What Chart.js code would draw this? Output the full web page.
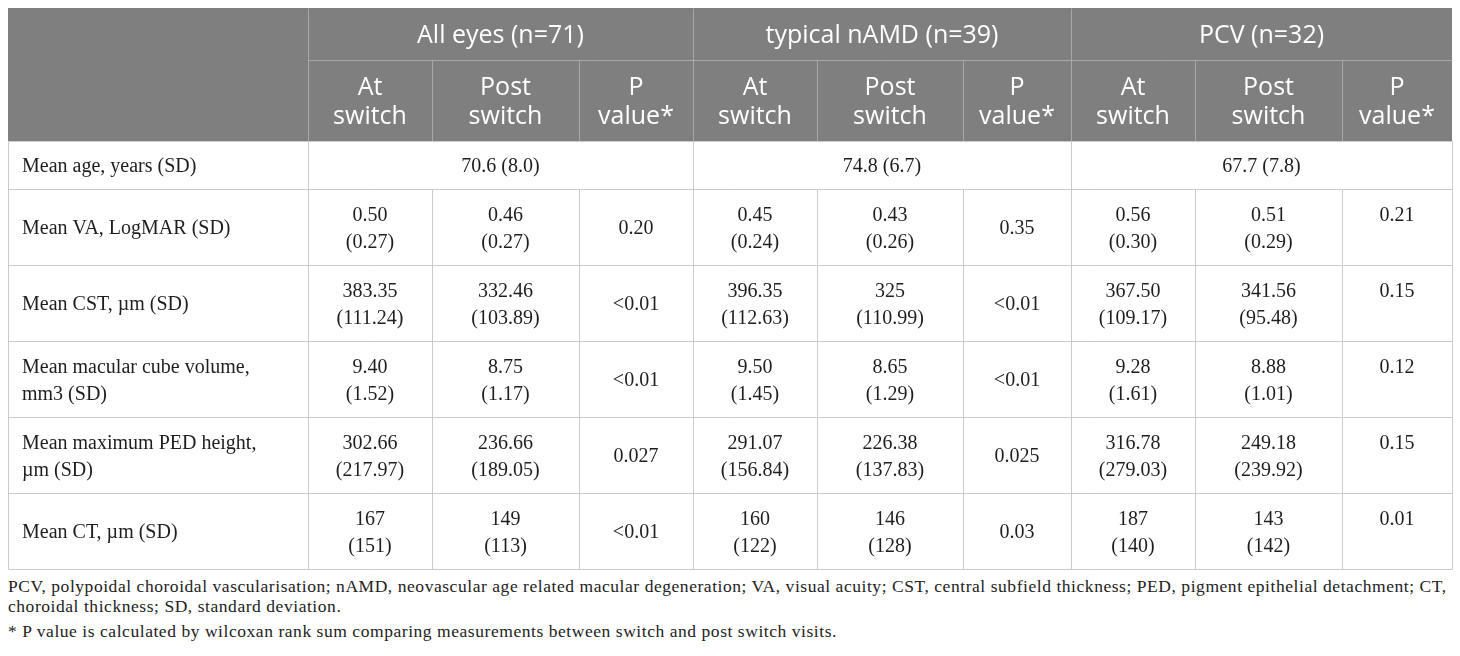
<!DOCTYPE html>
<html>
<head>
<meta charset="utf-8">
<script src="https://cdn.jsdelivr.net/npm/chart.js@4.4.1/dist/chart.umd.min.js"></script>
<style>
  html, body { margin: 0; padding: 0; background: #fff; }
  #wrap { width: 1460px; height: 575px; }
  .notes {
    font-family: "Liberation Serif", "Times New Roman", serif;
    font-size: 17.5px;
    letter-spacing: 0.55px;
    line-height: 20px;
    color: #222;
    margin: 1px 0 0 8px;
    white-space: nowrap;
  }
  .notes + .notes { margin-top: 5px; }
</style>
</head>
<body>
<div id="wrap"><canvas id="tbl" width="1460" height="575"></canvas></div>
<p class="notes">PCV, polypoidal choroidal vascularisation; nAMD, neovascular age related macular degeneration; VA, visual acuity; CST, central subfield thickness; PED, pigment epithelial detachment; CT,<br>choroidal thickness; SD, standard deviation.</p>
<p class="notes">* P value is calculated by wilcoxan rank sum comparing measurements between switch and post switch visits.</p>

<script>
// table content
const groups = ['All eyes (n=71)', 'typical nAMD (n=39)', 'PCV (n=32)'];
const subHeads = [['At', 'switch'], ['Post', 'switch'], ['P', 'value*']];
const rowLabels = [
    ['Mean age, years (SD)'],
    ['Mean VA, LogMAR (SD)'],
    ['Mean CST, µm (SD)'],
    ['Mean macular cube volume,', 'mm3 (SD)'],
    ['Mean maximum PED height,', 'µm (SD)'],
    ['Mean CT, µm (SD)']
];
const meanAge = ['70.6 (8.0)', '74.8 (6.7)', '67.7 (7.8)'];

const allAt = [['0.50', '(0.27)'], ['383.35', '(111.24)'], ['9.40', '(1.52)'], ['302.66', '(217.97)'], ['167', '(151)']];
const allPost = [['0.46', '(0.27)'], ['332.46', '(103.89)'], ['8.75', '(1.17)'], ['236.66', '(189.05)'], ['149', '(113)']];
const allP = ['0.20', '<0.01', '<0.01', '0.027', '<0.01'];

const namdAt = [['0.45', '(0.24)'], ['396.35', '(112.63)'], ['9.50', '(1.45)'], ['291.07', '(156.84)'], ['160', '(122)']];
const namdPost = [['0.43', '(0.26)'], ['325', '(110.99)'], ['8.65', '(1.29)'], ['226.38', '(137.83)'], ['146', '(128)']];
const namdP = ['0.35', '<0.01', '<0.01', '0.025', '0.03'];

const pcvAt = [['0.56', '(0.30)'], ['367.50', '(109.17)'], ['9.28', '(1.61)'], ['316.78', '(279.03)'], ['187', '(140)']];
const pcvPost = [['0.51', '(0.29)'], ['341.56', '(95.48)'], ['8.88', '(1.01)'], ['249.18', '(239.92)'], ['143', '(142)']];
const pcvP = ['0.21', '0.15', '0.12', '0.15', '0.01'];

// layout (column / row sizes in scale units)
const colWidths = [300, 124, 147, 114, 124, 146, 108, 124, 147, 110];
const rowHeights = [52, 81, 48, 76, 76, 76, 76, 76];

const xEdges = [0];
colWidths.forEach(w => xEdges.push(xEdges[xEdges.length - 1] + w));
const yEdges = [0];
rowHeights.forEach(h => yEdges.push(yEdges[yEdges.length - 1] + h));
const totalW = xEdges[xEdges.length - 1];
const totalH = yEdges[yEdges.length - 1];

const midX = (a, b) => (xEdges[a] + xEdges[b]) / 2;
const midY = r => (yEdges[r] + yEdges[r + 1]) / 2;

// one point per cell, placed at the cell centre
const cells = [];
groups.forEach((g, i) => {
    cells.push({ x: midX(1 + i * 3, 4 + i * 3), y: midY(0), lines: [g], kind: 'head' });
    subHeads.forEach((s, j) => {
        const c = 1 + i * 3 + j;
        cells.push({ x: midX(c, c + 1), y: midY(1), lines: s, kind: 'head' });
    });
});
rowLabels.forEach((lab, r) => {
    cells.push({ x: xEdges[0] + 14, y: midY(r + 2), lines: lab, kind: 'label' });
});
meanAge.forEach((v, i) => {
    cells.push({ x: midX(1 + i * 3, 4 + i * 3), y: midY(2), lines: [v], kind: 'body' });
});
const blocks = [
    [allAt, allPost, allP, false],
    [namdAt, namdPost, namdP, false],
    [pcvAt, pcvPost, pcvP, true]
];
blocks.forEach(([at, post, p, pTop], i) => {
    const c = 1 + i * 3;
    for (let r = 0; r < at.length; r++) {
        const row = r + 3;
        cells.push({ x: midX(c, c + 1), y: midY(row), lines: at[r], kind: 'body' });
        cells.push({ x: midX(c + 1, c + 2), y: midY(row), lines: post[r], kind: 'body' });
        cells.push({ x: midX(c + 2, c + 3), y: midY(row), lines: [p[r]], kind: 'body', top: pTop });
    }
});

const HEAD_BG = '#7f7f7f';
const HEAD_LINE = '#a8a8a8';
const BODY_LINE = '#cbcbcb';

const gridPlugin = {
    id: 'tableGrid',
    beforeDatasetsDraw(chart) {
        const { ctx, scales: { x, y } } = chart;
        const px = v => Math.round(x.getPixelForValue(v)) + 0.5;
        const py = v => Math.round(y.getPixelForValue(v)) + 0.5;
        const line = (x1, y1, x2, y2, color) => {
            ctx.strokeStyle = color;
            ctx.beginPath();
            ctx.moveTo(x1, y1);
            ctx.lineTo(x2, y2);
            ctx.stroke();
        };
        ctx.save();
        ctx.lineWidth = 1;
        // header background
        ctx.fillStyle = HEAD_BG;
        const hx0 = x.getPixelForValue(0), hx1 = x.getPixelForValue(totalW);
        const hy0 = y.getPixelForValue(0), hy1 = y.getPixelForValue(yEdges[2]);
        ctx.fillRect(hx0, hy0, hx1 - hx0, hy1 - hy0);
        // header lines
        line(px(xEdges[1]), py(yEdges[1]), px(totalW), py(yEdges[1]), HEAD_LINE);
        for (let c = 1; c < colWidths.length; c++) {
            const major = (c - 1) % 3 === 0;
            const top = major ? yEdges[0] : yEdges[1];
            line(px(xEdges[c]), py(top), px(xEdges[c]), py(yEdges[2]), HEAD_LINE);
        }
        // body horizontal lines
        for (let r = 2; r < yEdges.length; r++) {
            line(px(0), py(yEdges[r]), px(totalW), py(yEdges[r]), BODY_LINE);
        }
        // body vertical lines
        for (let c = 0; c < xEdges.length; c++) {
            const major = c === 0 || c === colWidths.length || (c - 1) % 3 === 0;
            const top = major ? yEdges[2] : yEdges[3];
            line(px(xEdges[c]), py(top), px(xEdges[c]), py(totalH), BODY_LINE);
        }
        ctx.restore();
    },
    afterDatasetsDraw(chart) {
        const { ctx } = chart;
        const ds = chart.data.datasets[0];
        const meta = chart.getDatasetMeta(0);
        ctx.save();
        ctx.textBaseline = 'middle';
        meta.data.forEach((el, i) => {
            const d = ds.data[i];
            let gap;
            if (d.kind === 'head') {
                ctx.font = '25px "Open Sans", sans-serif';
                ctx.fillStyle = '#ffffff';
                gap = 29;
            } else {
                ctx.font = '20px "Liberation Serif", "Times New Roman", serif';
                ctx.fillStyle = '#1e1e1e';
                gap = 27;
            }
            ctx.textAlign = d.kind === 'label' ? 'left' : 'center';
            const n = d.lines.length;
            // small nudge: canvas "middle" sits a touch high for these fonts
            const base = el.y + 2;
            const startY = d.top ? base - gap / 2 : base - (n - 1) * gap / 2;
            d.lines.forEach((t, j) => ctx.fillText(t, el.x, startY + j * gap));
        });
        ctx.restore();
    }
};

new Chart(document.getElementById('tbl'), {
    type: 'scatter',
    data: {
        datasets: [{
            label: 'cells',
            data: cells,
            pointRadius: 0,
            pointHoverRadius: 0
        }]
    },
    options: {
        responsive: false,
        animation: false,
        events: [],
        layout: { padding: { left: 8, right: 8, top: 8, bottom: 6 } },
        plugins: { legend: { display: false }, tooltip: { enabled: false } },
        scales: {
            x: { type: 'linear', display: false, min: 0, max: totalW },
            y: { type: 'linear', display: false, min: 0, max: totalH, reverse: true }
        }
    },
    plugins: [gridPlugin]
});
</script>
</body>
</html>
